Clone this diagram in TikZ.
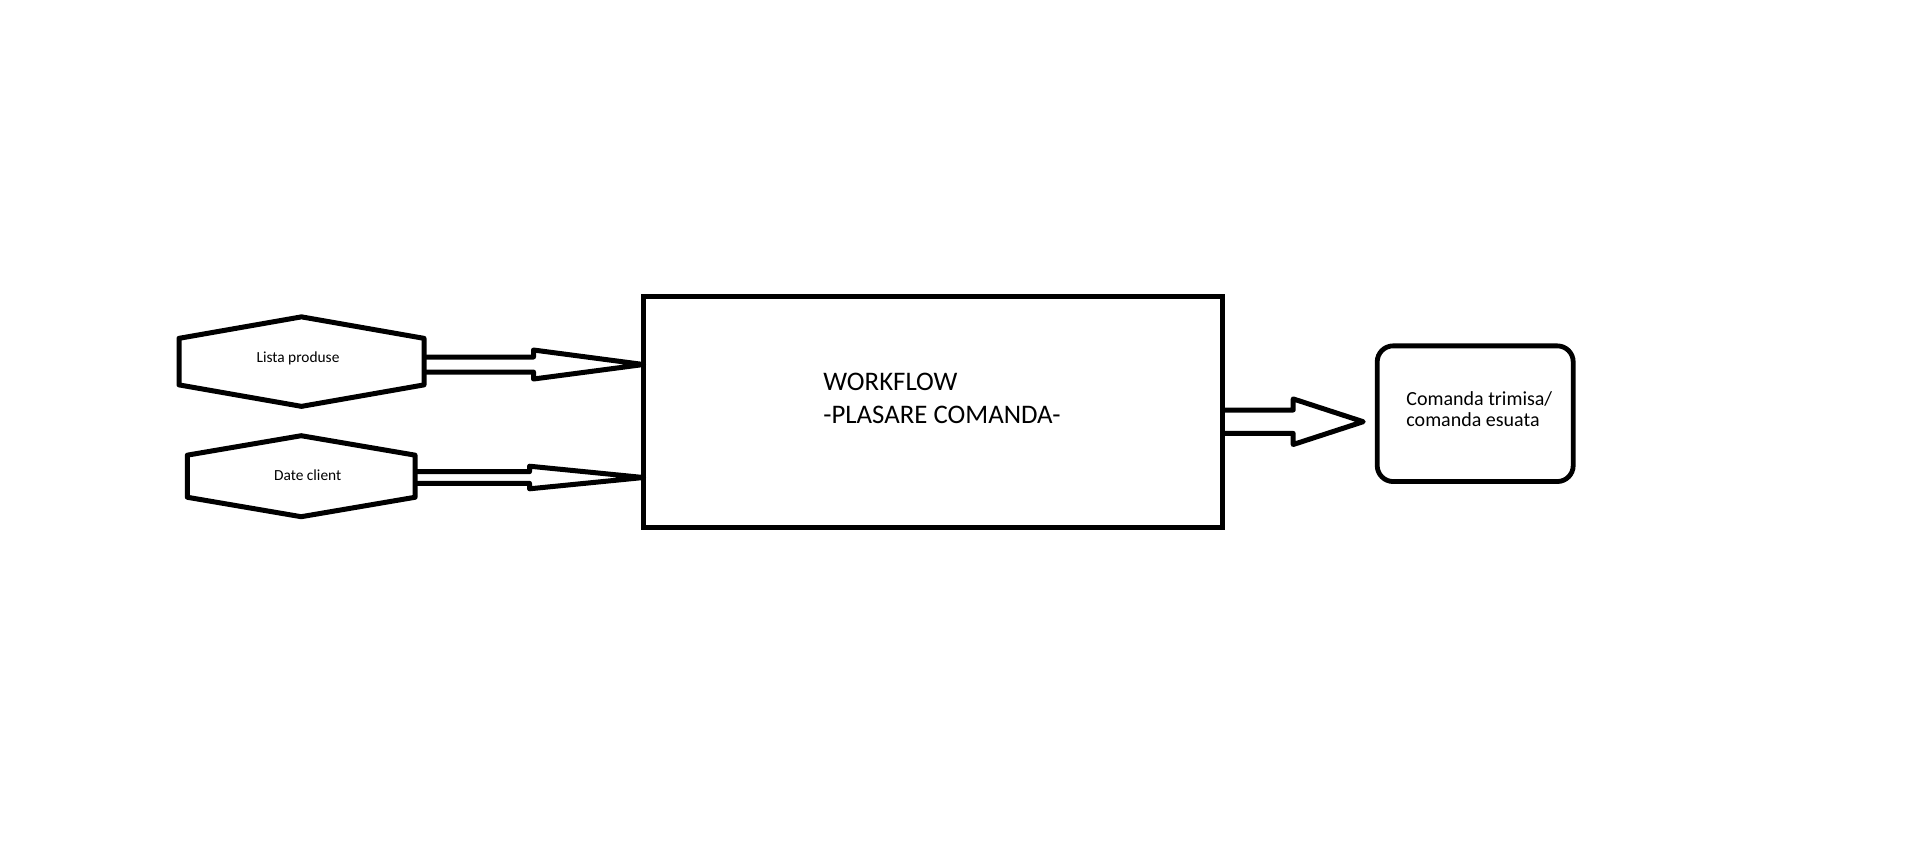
\documentclass[tikz,border=0pt]{standalone}
\usepackage{fontspec}
\setmainfont{Carlito}
\usepackage{tikz}
\usetikzlibrary{calc}

\tikzset{
  shapeline/.style={line width=2.5pt, line join=round},
  hexnode/.style={inner sep=0pt, outer sep=0pt},
  hextext/.style={inner sep=0pt, font=\fontsize{7.7}{9}\selectfont},
  blockline/.style={line width=2.5pt, line join=round}
}

% hexagon outline round an (invisible) node
\newcommand{\hexoutline}[1]{%
  \draw[shapeline] (#1.north) -- ($(#1.north east)!0.24!(#1.south east)$)
    -- ($(#1.north east)!0.76!(#1.south east)$) -- (#1.south)
    -- ($(#1.north west)!0.76!(#1.south west)$)
    -- ($(#1.north west)!0.24!(#1.south west)$) -- cycle;}

% hollow block arrow: from, tip, shaft half width, head half width, head length
\newcommand{\blockarrow}[5]{%
  \draw[blockline] let \p1=(#1), \p2=(#2) in
    (\x1,\y2+#3) -- (\x2-#5,\y2+#3) -- (\x2-#5,\y2+#4) -- (\x2,\y2)
    -- (\x2-#5,\y2-#4) -- (\x2-#5,\y2-#3) -- (\x1,\y2-#3);}

\begin{document}
\begin{tikzpicture}[x=0.5pt,y=-0.5pt]
  \useasboundingbox (0,0) rectangle (1906,864);

  % Inputs
  \node[hexnode, minimum width=122.5pt, minimum height=44.75pt] (lista) at (301.5,361.6) {};
  \hexoutline{lista}
  \node[hextext] (listatext) at ([shift={(-3.5,-3)}]lista.center) {Lista produse};
  \node[hexnode, minimum width=113.85pt, minimum height=40.5pt] (client) at (301.2,476.2) {};
  \hexoutline{client}
  \node[hextext] (clienttext) at ([shift={(6.5,-1.5)}]client.center) {Date client};

  % Workflow box
  \node[draw, line width=2.5pt, outer sep=0pt, minimum width=289.5pt, minimum height=115.15pt] (workflow) at (933,411.85) {};
  \node[anchor=base west, inner sep=0pt, align=left, font=\fontsize{13.4}{16.5}\selectfont] (wftext) at (823,423.3)
    {WORKFLOW\\-PLASARE COMANDA-};

  % Result box
  \node[draw, line width=2.4pt, rounded corners=8pt, outer sep=0pt, minimum width=98pt, minimum height=67.85pt] (result) at (1475.2,413.7) {};
  \node[anchor=base west, inner sep=0pt, align=left, font=\fontsize{10}{10.85}\selectfont] (restext) at (1406,426.7)
    {Comanda trimisa/\\comanda esuata};

  % Arrows
  \coordinate (tip1) at (workflow.west |- 0,364.5);
  \coordinate (tip2) at (workflow.west |- 0,477.5);
  \coordinate (tip3) at ([shift={(-14,8)}]result.west);
  \blockarrow{lista.east}{tip1}{3.75pt}{7.25pt}{55pt}
  \blockarrow{client.east}{tip2}{2.9pt}{5.65pt}{57pt}
  \blockarrow{workflow.east}{tip3}{5.85pt}{11.4pt}{35pt}

\end{tikzpicture}
\end{document}
